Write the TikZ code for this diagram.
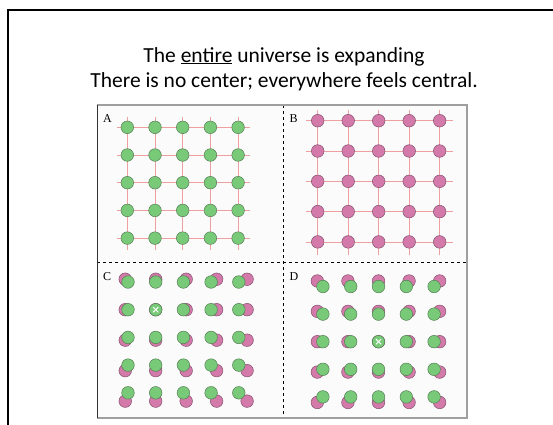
\documentclass[tikz,border=0pt]{standalone}
\usepackage{fontspec}
\setmainfont{Carlito}
\newfontfamily\labelfont{Liberation Serif}
\definecolor{gfill}{RGB}{120,202,120}
\definecolor{gline}{RGB}{85,125,85}
\definecolor{pfill}{RGB}{212,122,170}
\definecolor{pline}{RGB}{130,80,110}
\definecolor{gridred}{RGB}{238,160,160}
\definecolor{panelbg}{RGB}{251,251,251}
\begin{document}
\begin{tikzpicture}[x=1pt,y=-1pt,
  gdot/.style={circle,draw=gline,fill=gfill,line width=0.5pt,minimum size=12.6pt,inner sep=0pt},
  pdot/.style={circle,draw=pline,fill=pfill,line width=0.5pt,minimum size=12.6pt,inner sep=0pt},
  gridln/.style={draw=gridred,line width=0.7pt},
  lab/.style={font=\labelfont\fontsize{12}{12}\selectfont,anchor=base west,inner sep=0pt},
  ttl/.style={font=\fontsize{21.5}{24}\selectfont,anchor=base,inner sep=0pt},
  xmark/.style={draw=white,line width=1pt}]
\useasboundingbox (0,0) rectangle (553,424);
\fill[white] (0,0) rectangle (553,424);
\draw[line width=2.4pt] (560,10) -- (8,10) -- (8,430);
% title
\node[ttl] (t1) at (284,62) {The \underline{entire} universe is expanding};
\node[ttl] (t2) at (284,87.5) {There is no center; everywhere feels central.};
% picture box
\fill[panelbg] (97,105) rectangle (467,418);
\draw[dashed,line width=0.6pt] (283,105) -- (283,418);
\draw[dashed,line width=0.6pt] (97,262) -- (467,262);
\draw[gray!75,line width=1.1pt] (97,105) -- (467,105) -- (467,418) -- (97,418);
\draw[black!80,line width=0.6pt] (97,105) -- (97,418);
% labels
\node[lab] (la) at (103,122.3) {A};
\node[lab] (lb) at (289.5,122.3) {B};
\node[lab] (lc) at (103,280) {C};
\node[lab] (ld) at (289.5,280) {D};
% panel A
\foreach \i in {0,...,4}{
  \pgfmathsetmacro{\p}{127.3+27.7*\i}
  \draw[gridln] (116.7,\p) -- (250,\p);
  \draw[gridln] (\p,116.7) -- (\p,250);
}
\foreach \i in {0,...,4}{
  \foreach \j in {0,...,4}{
    \node[gdot] (a\i\j) at ({127.3+27.7*\i},{127.3+27.7*\j}) {};
  }
}
% panel B
\foreach \i in {0,...,4}{
  \pgfmathsetmacro{\px}{317.7+30.5*\i}
  \pgfmathsetmacro{\py}{120.7+30.3*\i}
  \draw[gridln] (306,\py) -- (453,\py);
  \draw[gridln] (\px,110) -- (\px,255);
}
\foreach \i in {0,...,4}{
  \foreach \j in {0,...,4}{
    \node[pdot] (b\i\j) at ({317.7+30.5*\i},{120.7+30.3*\j}) {};
  }
}
% panel C (centre at column 1, row 1)
\foreach \i in {0,...,4}{
  \foreach \j in {0,...,4}{
    \node[pdot] (cp\i\j) at ({155.7+1.1*27.7*(\i-1)},{309.7+1.1*27.7*(\j-1)}) {};
  }
}
\foreach \i in {0,...,4}{
  \foreach \j in {0,...,4}{
    \node[gdot] (cg\i\j) at ({155.7+27.7*(\i-1)},{309.7+27.7*(\j-1)}) {};
  }
}
\draw[xmark] ([shift={(-2.6,-2.6)}]cg11.center) -- ([shift={(2.6,2.6)}]cg11.center);
\draw[xmark] ([shift={(-2.6,2.6)}]cg11.center) -- ([shift={(2.6,-2.6)}]cg11.center);
% panel D (centre at column 2, row 2)
\foreach \i in {0,...,4}{
  \foreach \j in {0,...,4}{
    \node[pdot] (dp\i\j) at ({378.5+1.1*27.8*(\i-2)},{341.7+1.1*27.6*(\j-2)}) {};
  }
}
\foreach \i in {0,...,4}{
  \foreach \j in {0,...,4}{
    \node[gdot] (dg\i\j) at ({378.5+27.8*(\i-2)},{341.7+27.6*(\j-2)}) {};
  }
}
\draw[xmark] ([shift={(-2.6,-2.6)}]dg22.center) -- ([shift={(2.6,2.6)}]dg22.center);
\draw[xmark] ([shift={(-2.6,2.6)}]dg22.center) -- ([shift={(2.6,-2.6)}]dg22.center);
\end{tikzpicture}
\end{document}
